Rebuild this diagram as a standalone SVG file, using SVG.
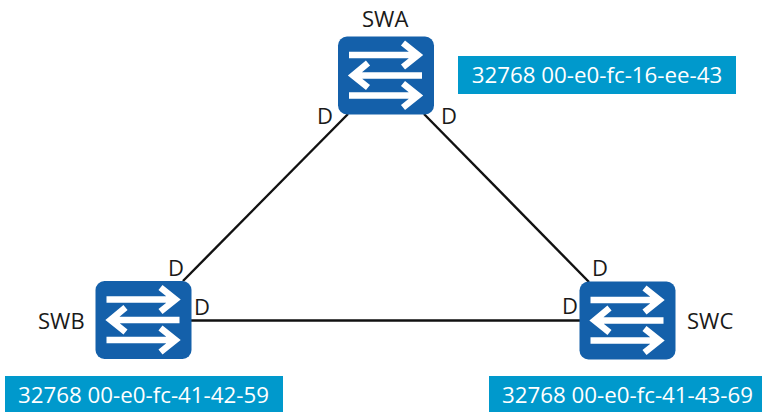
<svg xmlns="http://www.w3.org/2000/svg" width="762" height="412" viewBox="0 0 762 412">
<style>
text{font-family:"Open Sans","Noto Sans","Liberation Sans",sans-serif;fill:#1a1a1a;font-size:22px}
.tag{fill:#0099cc}
.tagt{fill:#fff;font-size:22.300px;text-anchor:middle}
.box{fill:#1460aa}
.ar{fill:none;stroke:#fff;stroke-width:6.500}
.ln{stroke:#111;stroke-width:2.400;fill:none}
</style>
<defs>
<g id="sw">
<rect class="box" width="96" height="78" rx="9"/>
<path class="ar" d="M11 18.500H80M65 6.500L80 18.500L65 30.500"/>
<path class="ar" d="M84 39H15M30 26.500L15 39L30 51"/>
<path class="ar" d="M11 59H80M65 47L80 59L65 71"/>
</g>
</defs>
<g id="connectors">
<path class="ln" d="M348 114L183 281"/>
<path class="ln" d="M424 114L589 282"/>
<path class="ln" d="M191 320.500H580"/>
</g>
<g id="swa"><use href="#sw" x="338" y="36.500"/><text x="362" y="27">SWA</text></g>
<g id="swb"><use href="#sw" x="95.500" y="281"/><text x="38" y="329">SWB</text></g>
<g id="swc"><use href="#sw" x="579.500" y="281.500"/><text x="687" y="329">SWC</text></g>
<g id="tag-a"><rect class="tag" x="458" y="56" width="278" height="38"/><text class="tagt" x="597" y="83">32768 00-e0-fc-16-ee-43</text></g>
<g id="tag-b"><rect class="tag" x="5" y="376" width="278" height="36"/><text class="tagt" x="143.500" y="403">32768 00-e0-fc-41-42-59</text></g>
<g id="tag-c"><rect class="tag" x="489" y="376" width="273" height="36"/><text class="tagt" x="627.500" y="403">32768 00-e0-fc-41-43-69</text></g>
<g id="ports">
<text x="317" y="124">D</text><text x="441" y="124">D</text>
<text x="168" y="276">D</text><text x="194" y="315">D</text>
<text x="592" y="276">D</text><text x="562" y="314">D</text>
</g>
</svg>
